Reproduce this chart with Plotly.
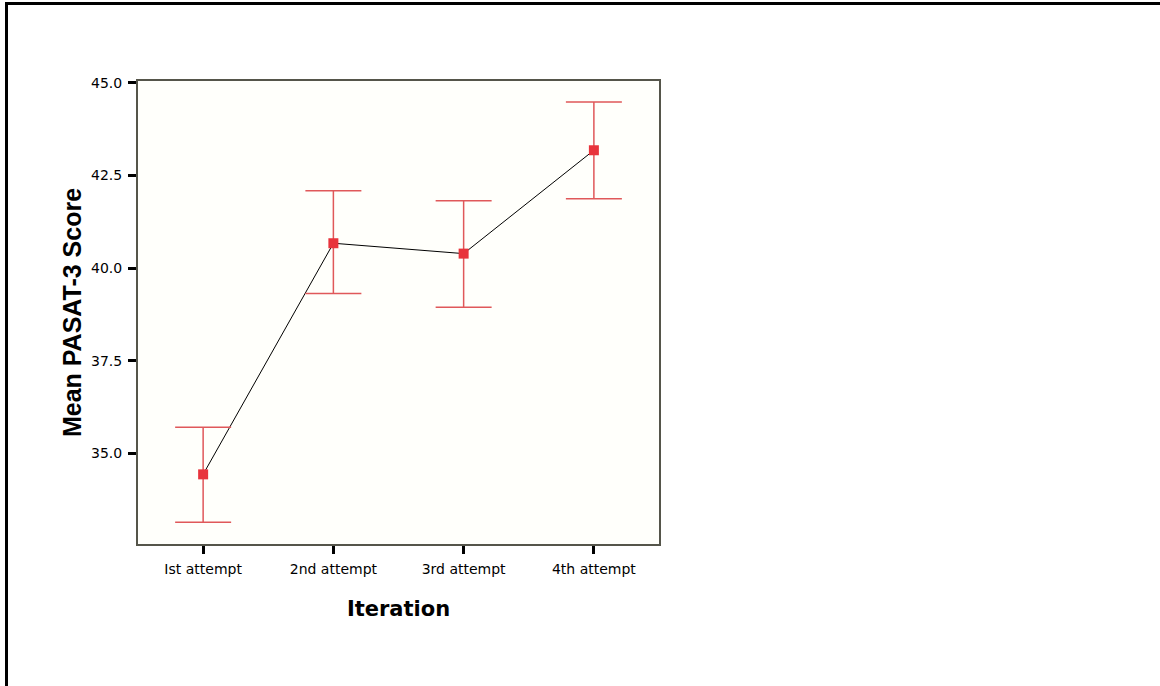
import plotly.graph_objects as go

categories = ["Ist attempt", "2nd attempt", "3rd attempt", "4th attempt"]
means = [34.43, 40.67, 40.39, 43.18]
upper = [35.70, 42.09, 41.82, 44.48]
lower = [33.14, 39.31, 38.94, 41.87]
y_ticks = [35.0, 37.5, 40.0, 42.5, 45.0]
y_tick_labels = ["35.0", "37.5", "40.0", "42.5", "45.0"]

W, H = 1160, 686
ML, MR, MT, MB = 138, 501, 81, 142
PW, PH = W - ML - MR, H - MT - MB

err_plus = [u - m for u, m in zip(upper, means)]
err_minus = [m - l for m, l in zip(means, lower)]
xs = list(range(len(categories)))

fig = go.Figure()
fig.add_trace(go.Scatter(
    x=xs, y=means, mode="lines",
    line=dict(color="black", width=1),
    hoverinfo="skip", showlegend=False,
))
fig.add_trace(go.Scatter(
    x=xs, y=means, mode="markers",
    marker=dict(symbol="square", size=10, color="#E8343C"),
    error_y=dict(type="data", symmetric=False, array=err_plus, arrayminus=err_minus,
                 color="#E0585A", thickness=1.5, width=28),
    showlegend=False,
))

axis_color = "#55554a"
fig.update_layout(
    width=W, height=H,
    margin=dict(l=ML, r=MR, t=MT, b=MB),
    paper_bgcolor="white",
    plot_bgcolor="#FFFFFB",
    font=dict(family="DejaVu Sans", size=14, color="black"),
    xaxis=dict(
        range=[-0.5, 3.5], tickmode="array", tickvals=xs, ticktext=categories,
        showgrid=False, zeroline=False,
        showline=True, linecolor=axis_color, linewidth=2, mirror=True,
        ticks="outside", ticklen=8, tickwidth=3, tickcolor="black",
        ticklabelstandoff=3,
        tickfont=dict(family="DejaVu Sans", size=14, color="black"),
        title=dict(text="Iteration", font=dict(family="DejaVu Sans", size=21, color="black",
                                              weight="bold"), standoff=26),
    ),
    yaxis=dict(
        range=[32.55, 45.05], tickmode="array", tickvals=y_ticks, ticktext=y_tick_labels,
        showgrid=False, zeroline=False,
        showline=True, linecolor=axis_color, linewidth=2, mirror=True,
        ticks="outside", ticklen=8, tickwidth=3, tickcolor="black",
        ticklabelstandoff=3,
        tickfont=dict(family="DejaVu Sans", size=14, color="black"),
        title=dict(text="Mean PASAT-3 Score", font=dict(family="Liberation Sans", size=25,
                                                        color="black", weight="bold"),
                   standoff=2),
    ),
)

# outer frame of the picture
fig.add_shape(
    type="rect", xref="paper", yref="paper",
    x0=(6.5 - ML) / PW, x1=(W + 20 - ML) / PW,
    y0=-(MB + 20) / PH, y1=1 + (MT - 3.5) / PH,
    line=dict(color="black", width=3), fillcolor="rgba(0,0,0,0)", layer="above",
)

fig.write_html("out.html")
